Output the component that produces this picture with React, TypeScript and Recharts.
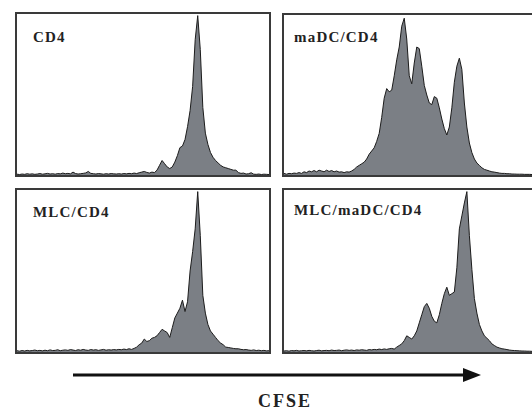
import React from 'react';
import { AreaChart, Area, XAxis, YAxis } from 'recharts';

// CFSE histograms, 100 bins per panel, values in % of panel height
const cd4 = [
  0.5, 0.3, 0.6, 0.4, 0.8, 0.5, 0.7, 0.4, 0.6, 0.9,
  0.5, 0.7, 1.0, 0.6, 0.8, 0.5, 0.9, 0.7, 1.2, 0.8,
  1.0, 0.7, 1.8, 0.9, 0.6, 0.8, 1.0, 1.3, 2.2, 1.0,
  0.8, 0.6, 0.9, 0.7, 0.5, 0.8, 0.6, 0.9, 0.7, 0.6,
  0.8, 0.6, 0.9, 0.7, 1.0, 0.8, 1.2, 0.9, 1.4, 1.8,
  2.2, 1.6, 1.2, 1.8, 1.5, 3.0, 6.0, 9.0, 7.0, 5.0,
  4.0, 5.0, 8.0, 12.0, 17.0, 18.0, 22.0, 30.0, 40.0, 55.0,
  84, 99, 78, 42, 26, 19, 14, 11, 9, 7.5,
  6, 5, 4.5, 4, 3.5, 3, 3, 1.5, 1, 1.2,
  0.6, 0.8, 1.4, 0.5, 0.4, 0.6, 0.3, 0.5, 0.4, 0.3,
];

const madcCd4 = [
  1.0, 0.5, 1.0, 0.8, 1.2, 1.0, 1.5, 1.0, 2.0, 1.5,
  2.5, 2.0, 2.8, 2.0, 3.0, 2.5, 2.0, 3.0, 2.2, 2.8,
  2.0, 2.5, 1.8, 2.0, 1.5, 2.0, 1.8, 2.5, 3.5, 5.0,
  6, 7, 8, 10, 13, 15, 17, 21, 26, 36,
  48, 54, 52, 53, 62, 72, 80, 93, 98, 85,
  62, 57, 70, 80, 79, 68, 56, 50, 45, 44,
  49, 48, 42, 35, 29, 25, 30, 42, 58, 68,
  73, 66, 45, 30, 20, 14, 10, 7.5, 6, 4.5,
  3.5, 3.0, 2.5, 2.0, 1.8, 1.5, 1.2, 1.0, 1.0, 0.8,
  0.8, 0.6, 0.6, 0.5, 0.5, 0.5, 0.4, 0.4, 0.4, 0.3,
];

const mlcCd4 = [
  0.8, 0.5, 0.9, 0.6, 1.0, 0.7, 0.9, 1.2, 0.8, 1.0,
  0.7, 1.1, 0.8, 1.3, 0.9, 1.0, 1.4, 0.8, 1.1, 1.3,
  1.0, 1.5, 1.2, 0.9, 1.4, 1.1, 1.6, 1.2, 1.0, 1.5,
  1.2, 1.4, 1.0, 1.3, 1.6, 1.1, 1.4, 1.2, 1.5, 1.3,
  1.6, 1.4, 1.8, 1.5, 2.0, 1.6, 2.2, 3.0, 4.5, 5.5,
  8, 6.5, 7, 8.5, 9, 10, 12, 14, 13, 12,
  9, 15, 21, 24, 27, 32, 25, 31, 50, 62,
  76, 99, 72, 35, 24, 17, 13, 11, 9, 7,
  5.5, 4.5, 3, 2.8, 2.5, 2.2, 2.0, 2.0, 1.6, 1.4,
  1.5, 1.2, 1.0, 1.3, 0.9, 1.1, 0.8, 1.0, 0.7, 0.8,
];

const mlcMadcCd4 = [
  0.6, 0.8, 0.5, 0.9, 0.7, 1.0, 0.6, 0.8, 0.9, 0.7,
  1.0, 0.8, 0.6, 0.9, 1.1, 0.7, 0.9, 1.0, 0.8, 1.2,
  0.9, 1.0, 1.2, 0.8, 1.1, 1.3, 1.0, 1.2, 0.9, 1.3,
  1.1, 1.4, 1.2, 1.0, 1.5, 1.3, 1.6, 1.4, 1.8, 1.5,
  1.9, 1.6, 2.0, 2.2, 1.8, 3.0, 4.0, 5.0, 7.0, 10,
  9, 8, 10, 13, 18, 23, 28, 30, 27, 22,
  19, 18, 23, 30, 36, 40, 35, 36, 37, 52,
  76, 84, 92, 99, 72, 51, 33, 24, 17, 13,
  10, 8.5, 7, 5, 4, 3, 2.5, 2, 1.8, 1.5,
  1.2, 1.0, 0.9, 0.8, 0.7, 0.6, 0.6, 0.5, 0.5, 0.4,
];

const panelLabels = ['CD4', 'maDC/CD4', 'MLC/CD4', 'MLC/maDC/CD4'];
const axisLabel = 'CFSE';

const toRows = (vals: number[]) => vals.map((v, i) => ({ x: i, count: v }));

const serif = '"Liberation Serif", "Times New Roman", serif';

interface PanelProps {
  values: number[];
  label: string;
  left: number;
  top: number;
  width: number;
  height: number;
  labelDx: number;
  labelDy: number;
}

const Panel: React.FC<PanelProps> = ({ values, label, left, top, width, height, labelDx, labelDy }) => (
  <div
    style={{
      position: 'absolute',
      left,
      top,
      width,
      height,
      border: '2px solid #3a3a3a',
      boxSizing: 'border-box',
      background: '#fff',
    }}
  >
    <AreaChart width={width - 4} height={height - 4} data={toRows(values)} margin={{ top: 0, right: 0, bottom: 0, left: 0 }}>
      <XAxis dataKey="x" type="number" domain={[0, 99]} hide />
      <YAxis type="number" domain={[0, 100]} hide allowDataOverflow />
      <Area
        type="linear"
        dataKey="count"
        stroke="#1c1c1c"
        strokeWidth={1}
        fill="#7b7f85"
        fillOpacity={1}
        isAnimationActive={false}
      />
    </AreaChart>
    <div
      style={{
        position: 'absolute',
        left: labelDx,
        top: labelDy,
        fontFamily: serif,
        fontWeight: 'bold',
        fontSize: 15,
        lineHeight: '15px',
        letterSpacing: 1.2,
        color: '#222',
        whiteSpace: 'nowrap',
      }}
    >
      {label}
    </div>
  </div>
);

export default function App() {
  return (
    <div
      style={{
        position: 'absolute',
        left: 0,
        top: 0,
        width: 532,
        height: 412,
        overflow: 'hidden',
        background: '#fff',
      }}
    >
      <Panel values={cd4} label={panelLabels[0]} left={15} top={12} width={256} height={165} labelDx={16} labelDy={16} />
      <Panel values={madcCd4} label={panelLabels[1]} left={282} top={13} width={252} height={164} labelDx={10} labelDy={15} />
      <Panel values={mlcCd4} label={panelLabels[2]} left={15} top={188} width={256} height={166} labelDx={16} labelDy={15} />
      <Panel values={mlcMadcCd4} label={panelLabels[3]} left={282} top={188} width={252} height={166} labelDx={10} labelDy={13} />

      <svg width={532} height={412} style={{ position: 'absolute', left: 0, top: 0, pointerEvents: 'none' }}>
        <line x1={73} y1={375} x2={468} y2={375} stroke="#111" strokeWidth={3} />
        <polygon points="463,368 481,375 463,382" fill="#111" />
      </svg>
      <div
        style={{
          position: 'absolute',
          left: 0,
          width: 570,
          top: 394,
          textAlign: 'center',
          fontFamily: serif,
          fontWeight: 'bold',
          fontSize: 18,
          lineHeight: '15px',
          letterSpacing: 2,
          color: '#222',
        }}
      >
        {axisLabel}
      </div>
    </div>
  );
}
